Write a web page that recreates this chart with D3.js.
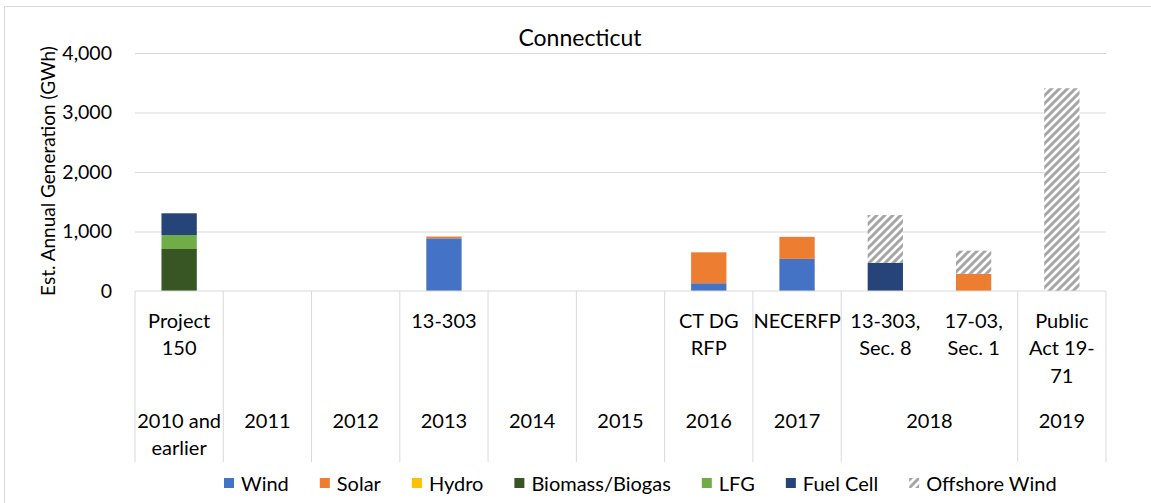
<!DOCTYPE html>
<html>
<head>
<meta charset="utf-8">
<script src="https://cdn.jsdelivr.net/npm/d3@7"></script>
<style>
  body { margin: 0; background: #fff; }
  text { font-family: Lato, "Open Sans", sans-serif; fill: #000; }
</style>
</head>
<body>
<div id="chart"></div>
<script>
// leaf categories (program names, one line per array entry)
const programs = [
    ["Project", "150"], [], [], ["13-303"], [], [], ["CT DG", "RFP"], ["NECERFP"],
    ["13-303,", "Sec. 8"], ["17-03,", "Sec. 1"], ["Public", "Act 19-", "71"]
];
// year groups and how many leaf categories each one covers
const years = [["2010 and", "earlier"], ["2011"], ["2012"], ["2013"], ["2014"], ["2015"],
    ["2016"], ["2017"], ["2018"], ["2019"]];
const yearSpans = [1, 1, 1, 1, 1, 1, 1, 1, 2, 1];

const seriesNames = ["Wind", "Solar", "Hydro", "Biomass/Biogas", "LFG", "Fuel Cell", "Offshore Wind"];
const wind     = [0, 0, 0, 885, 0, 0, 130, 540, 0, 0, 0];
const solar    = [0, 0, 0, 30, 0, 0, 520, 370, 0, 288, 0];
const hydro    = [0, 0, 0, 0, 0, 0, 0, 0, 0, 0, 0];
const biomass  = [706, 0, 0, 0, 0, 0, 0, 0, 0, 0, 0];
const lfg      = [235, 0, 0, 0, 0, 0, 0, 0, 0, 0, 0];
const fuelCell = [365, 0, 0, 0, 0, 0, 0, 0, 476, 0, 0];
const offshore = [0, 0, 0, 0, 0, 0, 0, 0, 801, 390, 3408];
const yTicks = [0, 1000, 2000, 3000, 4000];

const colors = ["#4472C4", "#ED7D31", "#FFC000", "#375623", "#70AD47", "#264478", "url(#hatch)"];

let seriesValues = [wind, solar, hydro, biomass, lfg, fuelCell, offshore];
let rows = programs.map((p, i) => {
    let r = {idx: i};
    seriesNames.forEach((s, j) => r[s] = seriesValues[j][i]);
    return r;
});

let W = 1151, H = 503;
let margin = {top: 53, left: 135, right: 45, bottom: 212};
let width = W - margin.left - margin.right;
let height = H - margin.top - margin.bottom;
let fs = "20px";

let svg = d3.select("#chart").append("svg")
    .attr("width", W)
    .attr("height", H);

// pattern for offshore wind
let pat = svg.append("defs").append("pattern")
    .attr("id", "hatch")
    .attr("patternUnits", "userSpaceOnUse")
    .attr("width", 8)
    .attr("height", 8);
pat.append("rect").attr("width", 8).attr("height", 8).attr("fill", "#fff");
pat.append("path")
    .attr("d", "M-2,2 L2,-2 M0,8 L8,0 M6,10 L10,6")
    .attr("stroke", "#A5A5A5")
    .attr("stroke-width", 3);

// outer border
svg.append("rect")
    .attr("x", 4.5).attr("y", 6.5)
    .attr("width", 1160).attr("height", 520)
    .attr("fill", "none")
    .attr("stroke", "#d9d9d9");

svg.append("text")
    .attr("x", 580)
    .attr("y", 46)
    .attr("text-anchor", "middle")
    .style("font-size", "23px")
    .text("Connecticut");

let g = svg.append("g")
    .attr("transform", "translate(" + margin.left + "," + margin.top + ")");

let x = d3.scaleBand()
    .domain(d3.range(programs.length))
    .range([0, width])
    .padding(0);

let y = d3.scaleLinear()
    .domain([0, 4000])
    .range([height, 0]);

// gridlines
g.append("g")
    .attr("class", "grid")
    .call(d3.axisLeft(y).tickValues(yTicks.slice(1)).tickSize(-width).tickFormat(""))
    .call(a => a.select(".domain").remove())
    .call(a => a.selectAll("line").attr("stroke", "#d9d9d9"));

// y labels
g.append("g")
    .call(d3.axisLeft(y).tickValues(yTicks).tickSize(0).tickPadding(23).tickFormat(d3.format(",")))
    .call(a => a.select(".domain").remove())
    .call(a => a.selectAll("text").style("font-size", "19.5px").attr("fill", "#000")
        .style("font-family", "Lato, 'Open Sans', sans-serif"));

svg.append("text")
    .attr("transform", "translate(55,171) rotate(-90)")
    .attr("text-anchor", "middle")
    .style("font-size", "19px")
    .text("Est. Annual Generation (GWh)");

// stacked bars
let stack = d3.stack().keys(seriesNames);
let stacked = stack(rows);
let barW = x.bandwidth() * 0.4;

g.selectAll(".layer")
    .data(stacked)
    .enter().append("g")
    .attr("class", "layer")
    .attr("fill", (d, i) => colors[i])
    .selectAll("rect")
    .data(d => d.filter(v => v[1] - v[0] > 0))
    .enter().append("rect")
    .attr("x", d => x(d.data.idx) + (x.bandwidth() - barW) / 2)
    .attr("width", barW)
    .attr("y", d => y(d[1]))
    .attr("height", d => y(d[0]) - y(d[1]));

// category axis
let axisG = g.append("g").attr("transform", "translate(0," + height + ")");
axisG.append("line")
    .attr("x1", 0).attr("x2", width)
    .attr("stroke", "#d9d9d9");

let bounds = [0];
yearSpans.forEach(s => bounds.push(bounds[bounds.length - 1] + s));
bounds.forEach(b => {
    let bx = b < programs.length ? x(b) : width;
    axisG.append("line")
        .attr("x1", bx).attr("x2", bx)
        .attr("y1", 0).attr("y2", 171)
        .attr("stroke", "#d9d9d9");
});

let lineStep = 27.7;
programs.forEach((lines, i) => {
    let t = axisG.append("text")
        .attr("text-anchor", "middle")
        .style("font-size", fs);
    lines.forEach((l, k) => {
        t.append("tspan")
            .attr("x", x(i) + x.bandwidth() / 2)
            .attr("y", 36.5 + k * lineStep)
            .text(l);
    });
});

years.forEach((lines, i) => {
    let x0 = x(bounds[i]);
    let x1 = bounds[i + 1] < programs.length ? x(bounds[i + 1]) : width;
    let t = axisG.append("text")
        .attr("text-anchor", "middle")
        .style("font-size", fs);
    lines.forEach((l, k) => {
        t.append("tspan")
            .attr("x", (x0 + x1) / 2)
            .attr("y", 136.5 + k * lineStep)
            .text(l);
    });
});

// legend
let lx = 224;
seriesNames.forEach((s, i) => {
    let item = svg.append("g").attr("transform", "translate(" + lx + ",0)");
    item.append("rect")
        .attr("x", 0).attr("y", 478)
        .attr("width", 10).attr("height", 10)
        .attr("fill", colors[i]);
    let t = item.append("text")
        .attr("x", 17).attr("y", 490.5)
        .style("font-size", fs)
        .text(s);
    lx += 17 + t.node().getComputedTextLength() + 31;
});
</script>
</body>
</html>
